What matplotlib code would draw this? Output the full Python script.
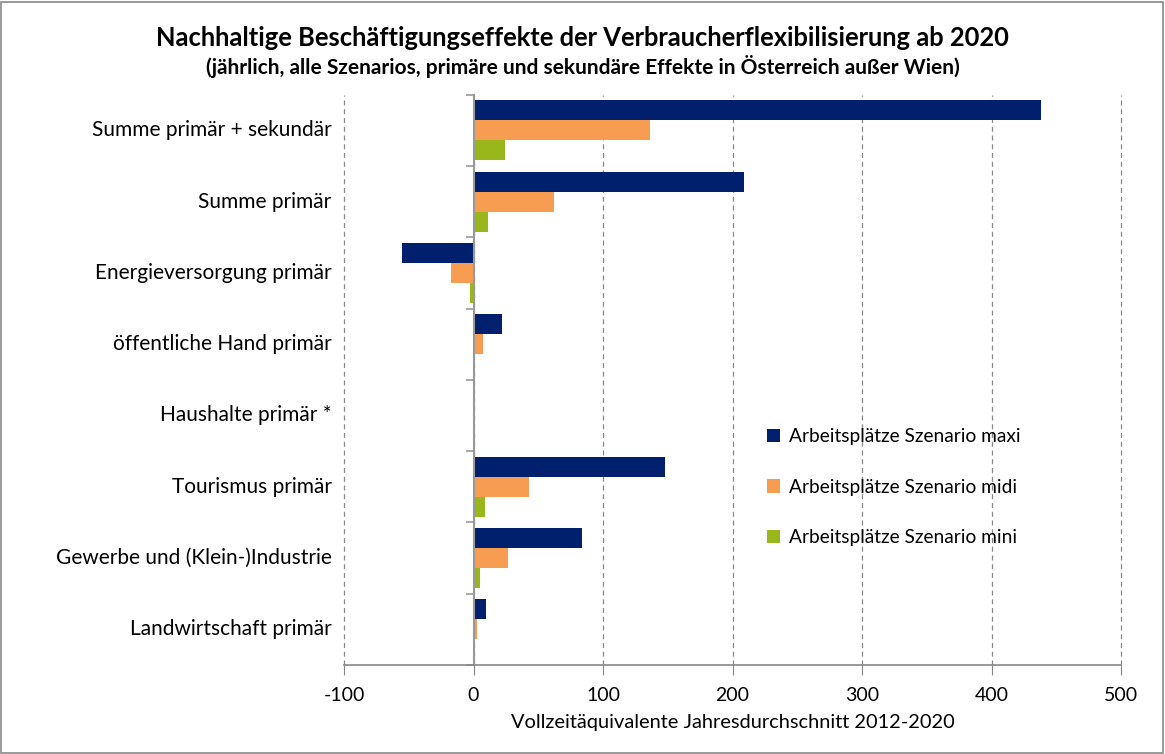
import matplotlib
matplotlib.use("Agg")
import matplotlib.pyplot as plt
import numpy as np
from matplotlib.patches import Rectangle

plt.rcParams['font.family'] = ['Lato', 'DejaVu Sans']

categories = [
    "Summe primär + sekundär",
    "Summe primär",
    "Energieversorgung primär",
    "öffentliche Hand primär",
    "Haushalte primär *",
    "Tourismus primär",
    "Gewerbe und (Klein-)Industrie",
    "Landwirtschaft primär",
]
maxi = [438, 209, -55, 22, 0, 148, 84, 10]
midi = [136, 62, -17, 7, 0, 43, 27, 3]
mini = [24, 11, -3, 1, 0, 8.5, 5, 1]
series_labels = ["Arbeitsplätze Szenario maxi",
                 "Arbeitsplätze Szenario midi",
                 "Arbeitsplätze Szenario mini"]
colors = ["#00206E", "#F79D52", "#99B71B"]
xticks = [-100, 0, 100, 200, 300, 400, 500]

fig = plt.figure(figsize=(11.65, 7.54), dpi=100)
ax = fig.add_axes([344/1165, 1-665/754, (1121-344)/1165, (665-94.7)/754])

y = np.arange(len(categories))
h = 0.28
for i, (vals, col, lab) in enumerate(zip([maxi, midi, mini], colors, series_labels)):
    ax.barh(y + (i - 1) * h, vals, height=h, color=col, label=lab,
            edgecolor="none", linewidth=0)

ax.set_ylim(len(categories) - 0.5, -0.5)
ax.set_xlim(-100, 500)
ax.set_xticks(xticks)
ax.set_xticklabels([str(t) for t in xticks], fontsize=14)
ax.tick_params(axis='x', direction='out', length=7, color='#888888', pad=9)
ax.xaxis.grid(True, linestyle=(0, (4, 3)), color='#888888', linewidth=0.9)
for gl in ax.get_xgridlines():
    gl.set_clip_on(False)
ax.set_axisbelow(True)

for s in ['top', 'right']:
    ax.spines[s].set_visible(False)
ax.spines['bottom'].set_color('#888888')
ax.spines['bottom'].set_linewidth(1.2)
ax.spines['left'].set_position(('data', 0))
ax.spines['left'].set_color('#999999')
ax.spines['left'].set_linewidth(1.5)

# Category boundary ticks on the value-axis crossing
ax.set_yticks(np.arange(len(categories) + 1) - 0.5)
ax.set_yticklabels([])
ax.tick_params(axis='y', direction='out', length=6, color='#999999', width=1.2)

for yi, cat in zip(y, categories):
    ax.text(-0.016, yi, cat, transform=ax.get_yaxis_transform(),
            ha='right', va='center', fontsize=15)

ax.set_xlabel("Vollzeitäquivalente Jahresdurchschnitt 2012-2020", fontsize=14.4,
              labelpad=7)

leg = ax.legend(loc='upper left', bbox_to_anchor=(0.522, 0.445), frameon=False,
                fontsize=13.8, handlelength=0.7, handleheight=0.7,
                handletextpad=0.45, labelspacing=1.74)

fig.text(0.5, 1 - 38/754, "Nachhaltige Beschäftigungseffekte der Verbraucherflexibilisierung ab 2020",
         ha='center', va='center', fontsize=18.4, fontweight='bold')
fig.text(0.5, 1 - 67/754, "(jährlich, alle Szenarios, primäre und sekundäre Effekte in Österreich außer Wien)",
         ha='center', va='center', fontsize=15, fontweight='bold')

fig.patches.append(Rectangle((0.001, 0.001), 0.997, 0.997, transform=fig.transFigure,
                             fill=False, edgecolor='#888888', linewidth=1.2))

fig.savefig("out.png", dpi=100, facecolor='white')
